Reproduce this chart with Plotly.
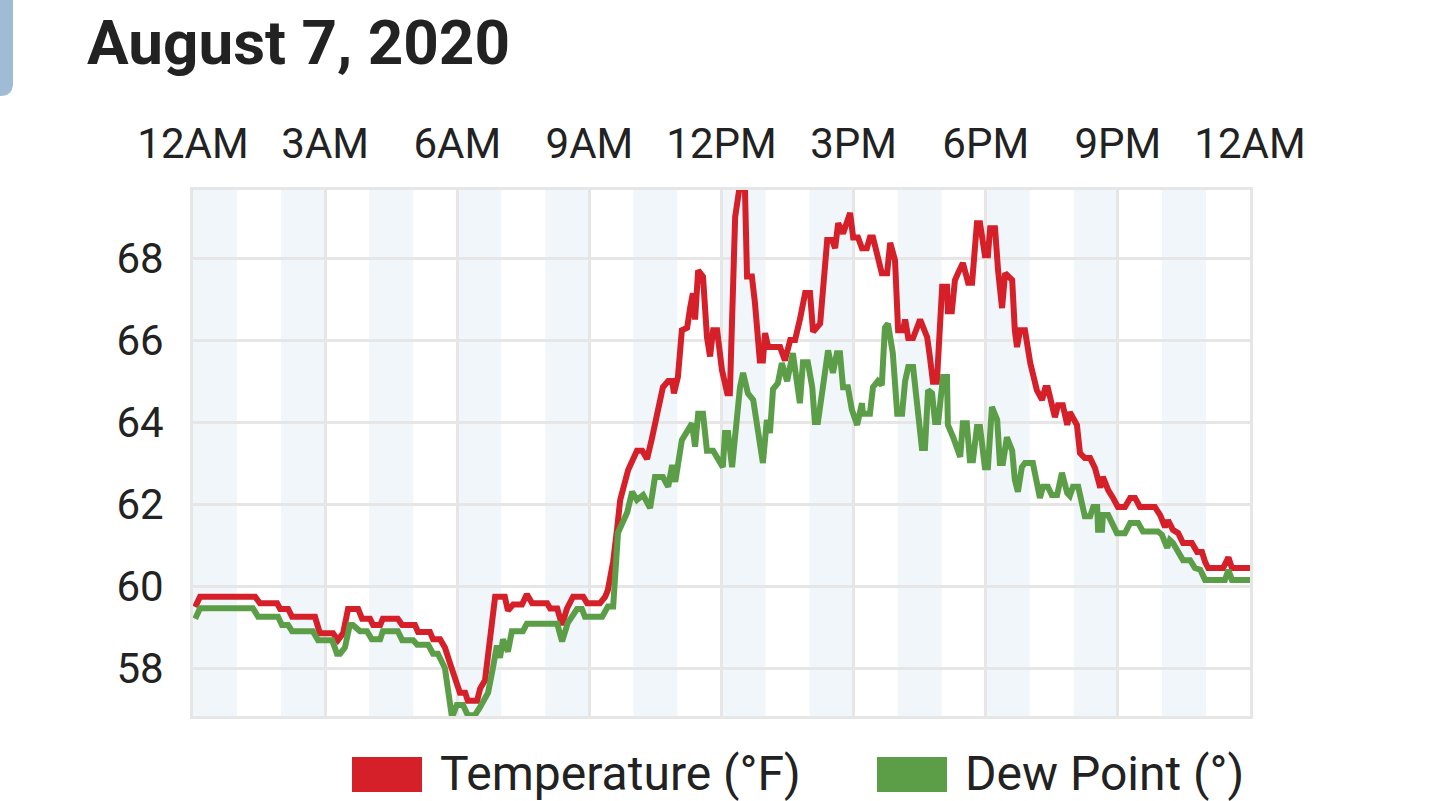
import plotly.graph_objects as go

# ---------------- data (hours since midnight, °F) ----------------
temp_hours = [0.05, 0.16, 1.41, 1.52, 1.91, 1.98, 2.16, 2.25, 2.77, 2.88, 3.18, 3.29, 3.41, 3.52, 3.75, 3.84,
              4.02, 4.09, 4.25, 4.31, 4.65, 4.75, 5.04, 5.11, 5.38, 5.45, 5.61, 5.72, 5.84, 5.97, 6.06, 6.18,
              6.24, 6.45, 6.52, 6.63, 6.74, 6.86, 7.08, 7.15, 7.27, 7.47, 7.58, 7.70, 8.04, 8.11, 8.27, 8.38,
              8.49, 8.63, 8.86, 8.95, 9.24, 9.36, 9.42, 9.54, 9.63, 9.70, 9.88, 10.08, 10.20, 10.31, 10.42,
              10.56, 10.67, 10.79, 10.88, 10.92, 11.01, 11.10, 11.22, 11.29, 11.35, 11.40, 11.47, 11.58, 11.67,
              11.74, 11.81, 11.90, 12.01, 12.13, 12.19, 12.31, 12.42, 12.53, 12.58, 12.69, 12.76, 12.87, 12.94,
              12.99, 13.06, 13.33, 13.44, 13.56, 13.67, 13.78, 13.90, 14.01, 14.08, 14.24, 14.40, 14.51, 14.58,
              14.65, 14.76, 14.92, 14.99, 15.10, 15.19, 15.30, 15.37, 15.44, 15.55, 15.64, 15.76, 15.83, 15.94,
              16.01, 16.12, 16.17, 16.24, 16.35, 16.51, 16.67, 16.73, 16.80, 16.89, 17.01, 17.12, 17.14, 17.23,
              17.30, 17.37, 17.48, 17.60, 17.69, 17.80, 17.87, 17.98, 18.05, 18.10, 18.21, 18.28, 18.37, 18.44,
              18.60, 18.66, 18.71, 18.78, 18.89, 19.01, 19.16, 19.28, 19.35, 19.41, 19.50, 19.57, 19.64, 19.75,
              19.85, 19.91, 20.07, 20.14, 20.25, 20.37, 20.48, 20.60, 20.66, 20.78, 20.89, 21.00, 21.16, 21.28,
              21.39, 21.50, 21.84, 21.96, 22.07, 22.14, 22.25, 22.37, 22.48, 22.68, 22.80, 22.91, 22.98, 23.05,
              23.39, 23.51, 23.59, 24.00]
temp_values = [59.49, 59.74, 59.74, 59.58, 59.58, 59.44, 59.44, 59.25, 59.25, 58.85, 58.85, 58.68, 58.85, 59.44,
               59.44, 59.2, 59.2, 59.05, 59.05, 59.2, 59.2, 59.05, 59.05, 58.88, 58.88, 58.7, 58.7, 58.5, 58.1,
               57.7, 57.4, 57.4, 57.2, 57.2, 57.5, 57.7, 58.8, 59.74, 59.74, 59.4, 59.55, 59.55, 59.8, 59.58,
               59.58, 59.45, 59.45, 59.05, 59.45, 59.74, 59.74, 59.58, 59.58, 59.74, 59.9, 60.6, 61.4, 62.1,
               62.83, 63.3, 63.3, 63.1, 63.6, 64.37, 64.85, 65.0, 65.0, 64.7, 65.1, 66.24, 66.3, 66.8, 67.14,
               66.5, 67.7, 67.55, 66.07, 65.6, 66.24, 66.24, 65.27, 64.7, 64.7, 69.0, 69.8, 69.8, 67.55, 67.55,
               66.9, 65.5, 65.5, 66.17, 65.83, 65.83, 65.5, 66.0, 66.0, 66.5, 67.15, 67.15, 66.2, 66.4, 68.44,
               68.44, 68.24, 68.85, 68.6, 69.1, 68.5, 68.5, 68.24, 68.24, 68.5, 68.5, 67.95, 67.63, 67.63, 68.37,
               67.95, 66.24, 66.24, 66.5, 66.05, 66.05, 66.5, 66.07, 65.6, 64.98, 64.98, 67.3, 67.3, 66.7, 66.7,
               67.46, 67.63, 67.88, 67.4, 67.4, 68.85, 68.85, 68.07, 68.07, 68.73, 68.73, 67.7, 66.78, 67.63,
               67.46, 66.24, 65.83, 66.24, 66.24, 65.44, 64.78, 64.54, 64.83, 64.83, 64.37, 64.12, 64.41, 64.41,
               63.93, 64.24, 63.93, 63.24, 63.12, 63.12, 62.88, 62.4, 62.66, 62.34, 62.15, 61.93, 61.93, 62.15,
               62.15, 61.93, 61.93, 61.73, 61.44, 61.6, 61.37, 61.29, 61.05, 61.05, 60.83, 60.83, 60.59, 60.44,
               60.44, 60.7, 60.44, 60.44]

dew_hours = [0.05, 0.16, 1.36, 1.48, 1.93, 2.02, 2.16, 2.25, 2.72, 2.84, 3.16, 3.27, 3.34, 3.45, 3.56, 3.63,
             3.79, 3.95, 4.06, 4.25, 4.31, 4.65, 4.75, 5.00, 5.09, 5.34, 5.45, 5.56, 5.72, 5.88, 5.99, 6.13,
             6.24, 6.40, 6.52, 6.70, 6.81, 6.90, 6.97, 7.04, 7.15, 7.24, 7.49, 7.58, 8.27, 8.38, 8.51, 8.72,
             8.83, 8.90, 9.29, 9.42, 9.54, 9.60, 9.65, 9.86, 9.97, 10.08, 10.22, 10.38, 10.49, 10.67, 10.79,
             10.88, 10.95, 11.10, 11.22, 11.33, 11.40, 11.47, 11.58, 11.67, 11.81, 11.92, 12.03, 12.08, 12.15,
             12.24, 12.31, 12.42, 12.49, 12.60, 12.72, 12.87, 12.94, 13.03, 13.10, 13.17, 13.28, 13.37, 13.49,
             13.62, 13.71, 13.78, 13.85, 13.96, 14.06, 14.12, 14.19, 14.31, 14.42, 14.53, 14.62, 14.69, 14.76,
             14.87, 14.96, 15.08, 15.19, 15.21, 15.37, 15.44, 15.55, 15.64, 15.71, 15.78, 15.89, 15.99, 16.10,
             16.17, 16.24, 16.35, 16.44, 16.55, 16.62, 16.69, 16.78, 16.85, 16.92, 17.03, 17.12, 17.14, 17.26,
             17.42, 17.48, 17.57, 17.64, 17.71, 17.80, 17.87, 17.98, 18.05, 18.14, 18.26, 18.32, 18.39, 18.48,
             18.60, 18.66, 18.73, 18.82, 18.89, 19.07, 19.16, 19.23, 19.30, 19.41, 19.50, 19.62, 19.73, 19.85,
             19.91, 19.98, 20.10, 20.19, 20.25, 20.37, 20.44, 20.53, 20.55, 20.64, 20.66, 20.78, 20.87, 20.98,
             21.16, 21.28, 21.46, 21.57, 21.91, 22.00, 22.12, 22.18, 22.25, 22.37, 22.48, 22.64, 22.75, 22.87,
             22.98, 23.43, 23.51, 23.59, 24.00]
dew_values = [59.2, 59.46, 59.46, 59.25, 59.25, 59.05, 59.05, 58.9, 58.9, 58.68, 58.68, 58.35, 58.35, 58.5, 59.05,
              59.05, 58.9, 58.9, 58.7, 58.7, 58.9, 58.9, 58.68, 58.68, 58.57, 58.57, 58.35, 58.35, 58.0, 56.8,
              57.1, 57.1, 56.85, 56.85, 57.05, 57.4, 58.0, 58.55, 58.25, 58.7, 58.4, 58.9, 58.9, 59.08, 59.08,
              58.65, 59.1, 59.44, 59.44, 59.25, 59.25, 59.5, 59.5, 60.5, 61.3, 61.8, 62.3, 62.1, 62.22, 61.9,
              62.66, 62.66, 62.42, 62.95, 62.54, 63.56, 63.76, 63.97, 63.4, 64.2, 64.2, 63.3, 63.3, 63.07, 62.9,
              63.73, 63.73, 62.9, 63.73, 64.85, 65.2, 64.7, 64.54, 63.56, 63.0, 64.05, 63.73, 64.8, 64.95, 65.44,
              65.0, 65.68, 64.85, 64.46, 65.46, 65.46, 64.85, 64.0, 64.0, 65.0, 65.75, 65.2, 65.68, 65.68, 64.85,
              64.85, 64.3, 63.93, 64.46, 64.2, 64.2, 64.85, 65.0, 64.9, 66.3, 66.4, 65.68, 64.2, 64.2, 65.0,
              65.34, 65.34, 64.37, 63.37, 63.37, 64.78, 64.7, 64.0, 64.0, 65.1, 65.1, 63.93, 63.63, 63.15, 63.97,
              63.97, 63.07, 63.07, 63.88, 63.88, 62.9, 62.9, 64.37, 64.05, 63.0, 63.0, 63.63, 63.3, 62.59, 62.3,
              62.9, 63.0, 63.0, 62.42, 62.15, 62.42, 62.42, 62.22, 62.22, 62.76, 62.27, 62.2, 62.42, 62.42, 61.9,
              61.7, 61.7, 61.93, 61.93, 61.37, 61.37, 61.73, 61.73, 61.54, 61.29, 61.29, 61.54, 61.54, 61.33,
              61.33, 61.25, 60.93, 61.12, 61.05, 60.83, 60.63, 60.63, 60.44, 60.4, 60.15, 60.15, 60.39, 60.15,
              60.15]

tick_hours = [0, 3, 6, 9, 12, 15, 18, 21, 24]
tick_labels = ["12AM", "3AM", "6AM", "9AM", "12PM", "3PM", "6PM", "9PM", "12AM"]
band_start_hours = [0, 2, 4, 6, 8, 10, 12, 14, 16, 18, 20, 22]
y_ticks = [58, 60, 62, 64, 66, 68]

series_names = ["Temperature (°F)", "Dew Point (°)"]
RED = "#d52029"
GREEN = "#5c9e48"

# ---------------- layout geometry ----------------
W, H = 1440, 801
L, R, T, B = 193, 190, 190, 85
PW, PH = W - L - R, H - T - B


def px(x):
    return (x - L) / PW


def py(y):
    return (H - B - y) / PH


FONT = "Roboto"
TXT = "#222222"

fig = go.Figure()
fig.add_trace(go.Scatter(x=temp_hours, y=temp_values, mode="lines", name=series_names[0],
                         line=dict(color=RED, width=6), showlegend=False, hoverinfo="skip"))
fig.add_trace(go.Scatter(x=dew_hours, y=dew_values, mode="lines", name=series_names[1],
                         line=dict(color=GREEN, width=6), showlegend=False, hoverinfo="skip"))

shapes = []
for h0 in band_start_hours:
    shapes.append(dict(type="rect", xref="x", yref="paper", x0=h0, x1=h0 + 1, y0=0, y1=1,
                       fillcolor="#f1f6fb", line=dict(width=0), layer="below"))
# decorative tab at top-left
shapes.append(dict(type="path", xref="paper", yref="paper",
                   path=f"M {px(-20)} {py(-20)} L {px(13)} {py(-20)} L {px(13)} {py(83)} "
                        f"Q {px(13)} {py(96)} {px(0)} {py(96)} L {px(-20)} {py(96)} Z",
                   fillcolor="#9fbbd5", line=dict(width=0), layer="above"))
# custom legend swatches
shapes.append(dict(type="rect", xref="paper", yref="paper", x0=px(352), x1=px(422), y0=py(792), y1=py(757),
                   fillcolor=RED, line=dict(width=0)))
shapes.append(dict(type="rect", xref="paper", yref="paper", x0=px(877), x1=px(947), y0=py(792), y1=py(757),
                   fillcolor=GREEN, line=dict(width=0)))

annotations = [
    dict(text=series_names[0], xref="paper", yref="paper", x=px(438), y=py(773), xanchor="left",
         yanchor="middle", showarrow=False, font=dict(family=FONT, size=48, color=TXT)),
    dict(text=series_names[1], xref="paper", yref="paper", x=px(963), y=py(773), xanchor="left",
         yanchor="middle", showarrow=False, font=dict(family=FONT, size=48, color=TXT)),
]

fig.update_layout(
    width=W, height=H,
    margin=dict(l=L, r=R, t=T, b=B),
    paper_bgcolor="white", plot_bgcolor="white",
    title=dict(text="<b>August 7, 2020</b>", x=87 / W, xanchor="left", y=1 - 42 / H, yanchor="middle",
               font=dict(family=FONT, size=62, color=TXT)),
    shapes=shapes, annotations=annotations,
    showlegend=False,
    xaxis=dict(range=[0, 24], side="top", tickvals=tick_hours, ticktext=tick_labels,
               showgrid=True, gridcolor="#e6e6e6", gridwidth=3, zeroline=False,
               showline=True, mirror=True, linecolor="#e6e6e6", linewidth=3,
               ticks="", ticklabelstandoff=12, tickfont=dict(family=FONT, size=42, color=TXT)),
    yaxis=dict(range=[56.83, 69.66], tickvals=y_ticks, showgrid=True, gridcolor="#e6e6e6", gridwidth=3,
               zeroline=False, showline=True, mirror=True, linecolor="#e6e6e6", linewidth=3,
               ticks="", ticklabelstandoff=18, tickfont=dict(family=FONT, size=42, color=TXT)),
)

fig.write_html("out.html", config={"displayModeBar": False},
               post_script="document.body.style.margin='0';document.body.style.overflow='hidden';")
